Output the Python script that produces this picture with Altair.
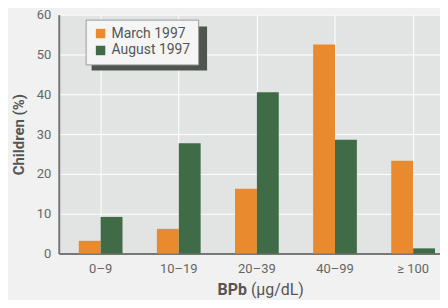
import altair as alt
import pandas as pd

categories = ["0–9", "10–19", "20–39", "40–99", "≥ 100"]
march = [3.2, 6.2, 16.3, 52.5, 23.3]
august = [9.2, 27.7, 40.5, 28.6, 1.3]
series = ["March 1997", "August 1997"]
colors = ["#e98a2e", "#3f6b47"]
y_ticks = [0, 10, 20, 30, 40, 50, 60]

rows = []
for c, m, a in zip(categories, march, august):
    rows.append({"cat": c, "series": series[0], "value": m})
    rows.append({"cat": c, "series": series[1], "value": a})
df = pd.DataFrame(rows)

FONT = "Roboto, Liberation Sans, sans-serif"
W, H = 383, 240

bars = alt.Chart(df).mark_bar().encode(
    x=alt.X("cat:N", sort=categories,
            scale=alt.Scale(paddingInner=0.44, paddingOuter=0.16, align=0.8),
            axis=alt.Axis(title=None, labelAngle=0, labelFontSize=13, labelColor="#666",
                          labelFont=FONT, ticks=False, labelPadding=9,
                          domainColor="#777", domainWidth=2, grid=True,
                          gridColor="#ffffff", gridWidth=1)),
    xOffset=alt.XOffset("series:N", sort=series),
    y=alt.Y("value:Q", scale=alt.Scale(domain=[0, 60]),
            axis=alt.Axis(values=y_ticks, title="Children (%)", titleFontSize=15,
                          titleFont=FONT, titleColor="#555", titleFontWeight="bold",
                          titlePadding=10, labelFontSize=13, labelColor="#666",
                          labelFont=FONT, ticks=False, labelPadding=8,
                          domainColor="#777", domainWidth=2,
                          gridColor="#ffffff", gridWidth=1)),
    color=alt.Color("series:N", sort=series,
                    scale=alt.Scale(domain=series, range=colors),
                    legend=alt.Legend(title=None, orient="none", legendX=27, legendY=5,
                                      symbolType="square", symbolSize=90,
                                      symbolStrokeWidth=0,
                                      labelFontSize=14, labelColor="#555", labelFont=FONT,
                                      fillColor="#f4f5f4", strokeColor="#999",
                                      padding=7, rowPadding=3, symbolOffset=1)),
)

shadow = alt.Chart(pd.DataFrame({"a": [0]})).mark_rect(color="#4f544f").encode(
    x=alt.value(33), x2=alt.value(149), y=alt.value(12), y2=alt.value(56)
)

title_bold = alt.Chart(pd.DataFrame({"t": ["BPb"]})).mark_text(
    align="right", baseline="middle", fontSize=16, fontWeight="bold",
    font=FONT, color="#555"
).encode(text="t:N", x=alt.value(189), y=alt.value(277))

title_unit = alt.Chart(pd.DataFrame({"t": ["(μg/dL)"]})).mark_text(
    align="left", baseline="middle", fontSize=16,
    font=FONT, color="#555"
).encode(text="t:N", x=alt.value(193), y=alt.value(277))

chart = alt.layer(shadow, bars, title_bold, title_unit).properties(
    width=W, height=H,
    autosize=alt.AutoSizeParams(type="none"),
    padding={"left": 51, "top": 6, "right": 0, "bottom": 46},
    background="#f0f1f0",
).configure_view(fill="#e2e4e4", stroke=None)

chart.save("out.html", embed_options={"renderer": "svg", "actions": False})
